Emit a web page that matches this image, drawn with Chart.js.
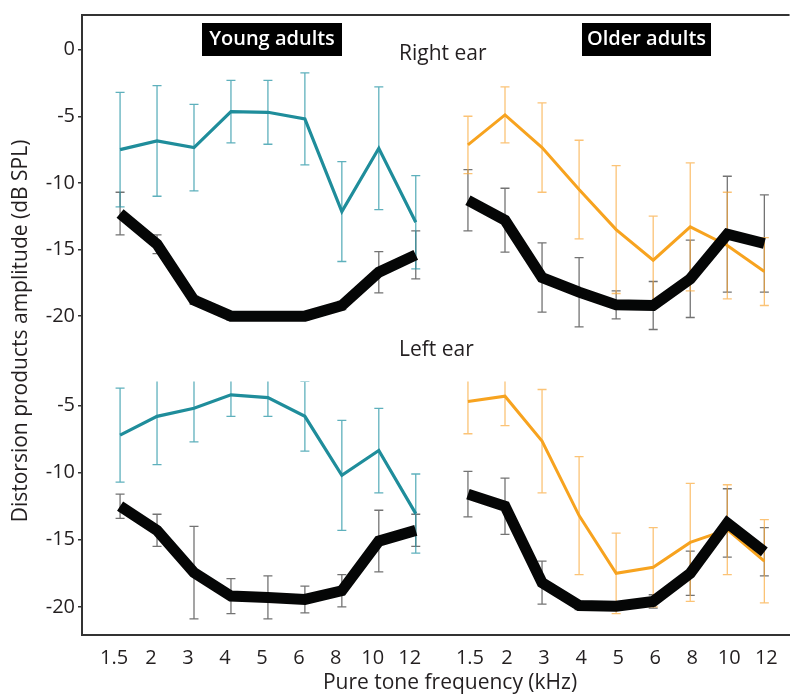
<!DOCTYPE html>
<html>
<head>
<meta charset="utf-8">
<script src="https://cdn.jsdelivr.net/npm/chart.js@4.4.0/dist/chart.umd.min.js"></script>
<style>
    html, body { margin: 0; padding: 0; background: #fff; }
</style>
</head>
<body>
<canvas id="myChartCanvas" width="806" height="698"></canvas>
<script>
const freqLabels = ['1.5', '2', '3', '4', '5', '6', '8', '10', '12'];
const topTicks = [0, -5, -10, -15, -20];
const bottomTicks = [-5, -10, -15, -20];

// Right ear, young adults
const youngRightMean = [-7.5, -6.85, -7.35, -4.65, -4.7, -5.2, -12.15, -7.4, -12.95];
const youngRightErr = [4.3, 4.15, 3.25, 2.35, 2.4, 3.45, 3.75, 4.6, 3.5];
const youngRightFloor = [-12.3, -14.6, -18.8, -20.0, -20.0, -20.0, -19.2, -16.7, -15.4];
const youngRightFloorErr = [1.6, 0.7, 0.3, 0.3, 0.3, 0.3, 0.3, 1.55, 1.8];

// Right ear, older adults
const olderRightMean = [-7.15, -4.9, -7.35, -10.5, -13.5, -15.8, -13.3, -14.7, -16.65];
const olderRightErr = [2.15, 2.1, 3.35, 3.7, 4.8, 3.3, 4.8, 4.0, 2.55];
const olderRightFloor = [-11.3, -12.8, -17.1, -18.2, -19.15, -19.2, -17.2, -13.85, -14.55];
const olderRightFloorErr = [2.3, 2.4, 2.6, 2.6, 1.05, 1.8, 2.9, 4.35, 3.65];

// Left ear, young adults
const youngLeftMean = [-7.2, -5.8, -5.2, -4.2, -4.4, -5.8, -10.2, -8.35, -13.05];
const youngLeftErr = [3.5, 3.6, 2.5, 1.6, 1.4, 2.6, 4.1, 3.15, 2.95];
const youngLeftFloor = [-12.5, -14.3, -17.45, -19.2, -19.3, -19.45, -18.8, -15.1, -14.3];
const youngLeftFloorErr = [0.9, 1.2, 3.45, 1.3, 1.6, 1.0, 1.2, 2.3, 1.2];

// Left ear, older adults
const olderLeftMean = [-4.7, -4.3, -7.65, -13.2, -17.5, -17.05, -15.2, -14.25, -16.6];
const olderLeftErr = [2.4, 2.2, 3.85, 4.4, 3.0, 2.95, 4.4, 3.35, 3.1];
const olderLeftFloor = [-11.6, -12.5, -18.2, -19.9, -19.95, -19.6, -17.5, -13.75, -15.9];
const olderLeftFloorErr = [1.7, 2.1, 1.6, 0.3, 0.3, 0.5, 1.65, 2.55, 1.8];

const TEAL = '#1f8d9b';
const TEAL_ERR = 'rgba(40,150,165,0.75)';
const ORANGE = '#f7a31f';
const ORANGE_ERR = 'rgba(250,170,60,0.7)';
const BLACK = '#050606';
const BLACK_ERR = 'rgba(40,40,40,0.65)';
const TEXT = '#231f20';
const FONT = '"Open Sans", sans-serif';

function pts(arr) {
    return arr.map((v, i) => ({ x: i, y: v }));
}

function lineSet(label, values, errors, xAxis, yAxis, color, errColor, width) {
    return {
        label: label,
        data: pts(values),
        errors: errors,
        errorColor: errColor,
        xAxisID: xAxis,
        yAxisID: yAxis,
        borderColor: color,
        backgroundColor: color,
        borderWidth: width,
        borderJoinStyle: 'miter',
        borderCapStyle: 'butt',
        pointRadius: 0,
        tension: 0,
        fill: false
    };
}

// error bars with caps, clipped to their own panel
const errorBars = {
    id: 'errorBars',
    beforeDatasetsDraw(chart) {
        const c = chart.ctx;
        chart.data.datasets.forEach((ds) => {
            const xs = chart.scales[ds.xAxisID];
            const ys = chart.scales[ds.yAxisID];
            c.save();
            c.beginPath();
            c.rect(xs.left, ys.top, xs.right - xs.left, ys.bottom - ys.top);
            c.clip();
            c.strokeStyle = ds.errorColor;
            c.lineWidth = 1.3;
            ds.data.forEach((p, j) => {
                const x = xs.getPixelForValue(p.x);
                const y1 = ys.getPixelForValue(p.y + ds.errors[j]);
                const y2 = ys.getPixelForValue(p.y - ds.errors[j]);
                c.beginPath();
                c.moveTo(x, y1); c.lineTo(x, y2);
                c.moveTo(x - 4.5, y1); c.lineTo(x + 4.5, y1);
                c.moveTo(x - 4.5, y2); c.lineTo(x + 4.5, y2);
                c.stroke();
            });
            c.restore();
        });
    }
};

// frame top, titles and panel labels
const decorations = {
    id: 'decorations',
    afterDraw(chart) {
        const c = chart.ctx;
        const area = chart.chartArea;
        c.save();
        c.strokeStyle = '#333';
        c.lineWidth = 2;
        c.beginPath();
        c.moveTo(area.left - 1, area.top);
        c.lineTo(area.right, area.top);
        c.stroke();

        c.fillStyle = TEXT;
        c.font = '21px ' + FONT;
        c.textBaseline = 'middle';
        c.textAlign = 'center';
        c.fillText('Pure tone frequency (kHz)', 450, 683);
        c.textAlign = 'left';
        c.fillText('Right ear', 399, 54);
        c.fillText('Left ear', 399, 350);

        c.save();
        c.translate(21, 331);
        c.rotate(-Math.PI / 2);
        c.textAlign = 'center';
        c.fillText('Distorsion products amplitude (dB SPL)', 0, 0);
        c.restore();

        c.fillStyle = '#000';
        c.fillRect(202, 23, 140, 33);
        c.fillRect(582, 23, 129, 33);
        c.fillStyle = '#fff';
        c.font = '600 20px ' + FONT;
        c.textAlign = 'center';
        c.fillText('Young adults', 272, 39.5);
        c.fillText('Older adults', 646.5, 39.5);
        c.restore();
    }
};

function xAxis(min, max, weight, offset) {
    return {
        type: 'linear',
        position: 'bottom',
        stack: 'h',
        stackWeight: weight,
        min: min,
        max: max,
        grid: { display: false, drawTicks: false },
        border: { display: true, color: '#333', width: 2 },
        afterBuildTicks: (scale) => {
            scale.ticks = freqLabels.map((_, i) => ({ value: i }));
        },
        afterFit: (scale) => { scale.height = 63; },
        ticks: {
            autoSkip: false,
            maxRotation: 0,
            padding: 11,
            labelOffset: offset,
            color: TEXT,
            font: { family: FONT, size: 20 },
            callback: (v) => freqLabels[v]
        }
    };
}

function yAxis(min, max, weight, tickValues) {
    return {
        type: 'linear',
        position: 'left',
        stack: 'v',
        stackWeight: weight,
        min: min,
        max: max,
        grid: { display: true, drawOnChartArea: false, drawTicks: true, tickLength: 4, color: '#333', lineWidth: 1.5 },
        border: { display: true, color: '#333', width: 2 },
        afterBuildTicks: (scale) => {
            scale.ticks = tickValues.map((v) => ({ value: v }));
        },
        afterFit: (scale) => { scale.width = 82; },
        ticks: {
            padding: 3,
            color: TEXT,
            font: { family: FONT, size: 20 },
            callback: (v) => String(v)
        }
    };
}

const ctx = document.getElementById('myChartCanvas').getContext('2d');
const chart = new Chart(ctx, {
    type: 'line',
    data: {
        datasets: [
            lineSet('Young, right ear, floor', youngRightFloor, youngRightFloorErr, 'xL', 'yTop', BLACK, BLACK_ERR, 11),
            lineSet('Older, right ear, floor', olderRightFloor, olderRightFloorErr, 'xR', 'yTop', BLACK, BLACK_ERR, 11),
            lineSet('Young, left ear, floor', youngLeftFloor, youngLeftFloorErr, 'xL', 'yBot', BLACK, BLACK_ERR, 11),
            lineSet('Older, left ear, floor', olderLeftFloor, olderLeftFloorErr, 'xR', 'yBot', BLACK, BLACK_ERR, 11),
            lineSet('Young, right ear', youngRightMean, youngRightErr, 'xL', 'yTop', TEAL, TEAL_ERR, 3.2),
            lineSet('Older, right ear', olderRightMean, olderRightErr, 'xR', 'yTop', ORANGE, ORANGE_ERR, 3),
            lineSet('Young, left ear', youngLeftMean, youngLeftErr, 'xL', 'yBot', TEAL, TEAL_ERR, 3.2),
            lineSet('Older, left ear', olderLeftMean, olderLeftErr, 'xR', 'yBot', ORANGE, ORANGE_ERR, 3)
        ]
    },
    options: {
        responsive: false,
        animation: false,
        layout: { padding: { top: 9, right: 0, left: 0, bottom: 0 } },
        plugins: {
            legend: { display: false },
            tooltip: { enabled: false }
        },
        scales: {
            xL: xAxis(-1.03, 8.70, 368, -6),
            xR: xAxis(-0.71, 8.68, 356, 2),
            yBot: yAxis(-22.1, -3.2, 256, bottomTicks),
            yTop: yAxis(-24.9, 2.6, 370, topTicks)
        }
    },
    plugins: [errorBars, decorations]
});
</script>
</body>
</html>
